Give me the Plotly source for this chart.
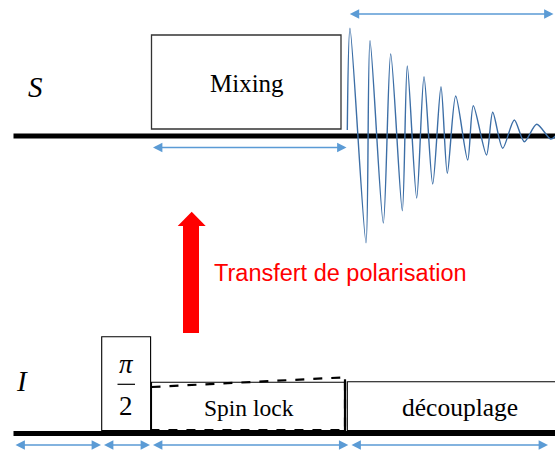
import plotly.graph_objects as go

# ---------------- data (diagram time axis, px-like units) ----------------
S_BASE = 136.0          # S channel baseline level
I_BASE = 433.5          # I channel baseline level

# FID on the S channel: extrema (time, amplitude above baseline)
fid_t = [347.3, 350.0, 366.0, 370.0, 383.3, 390.7, 402.3, 407.3, 416.7, 424.0,
         432.7, 441.0, 447.3, 455.7, 467.7, 473.3, 486.5, 492.7, 502.7, 514.3,
         524.3, 536.7, 550.7, 556.0]
fid_amp = [6.0, 107.7, -106.7, 95.3, -87.0, 82.0, -74.7, 70.0, -62.0, 59.3,
           -48.0, 49.3, -37.3, 40.0, -24.0, 30.3, -19.0, 23.7, -12.3, 16.0,
           -5.7, 11.7, -3.0, 0.5]

# blocks: (label, t_start, t_end, top level)
mixing_block = ("Mixing", 151.5, 341.0, 35.0, 129.0)
pulse_block = (101.7, 150.6, 336.7)
spinlock_block = ("Spin lock", 151.5, 345.0, 382.3)
decouple_block = ("découplage", 347.3, 600.0, 381.7)
spinlock_ramp = [387.0, 377.3]  # dashed ramp level at start / end

# duration arrows: (t0, t1, level)
duration_arrows = [
    (348.3, 553.5, 14.0),
    (151.5, 346.5, 147.5),
    (14.0, 101.0, 445.0),
    (102.5, 150.0, 445.0),
    (151.5, 348.3, 445.0),
    (350.0, 548.0, 445.0),
]

BLUE = "#5B9BD5"
FID_BLUE = "#3C6EA6"
RED = "#FF0000"

fig = go.Figure()

# baselines
for yb in (S_BASE, I_BASE):
    fig.add_trace(go.Scatter(x=[13.5, 570], y=[yb, yb], mode="lines",
                             line=dict(color="black", width=5),
                             hoverinfo="skip", showlegend=False))

# FID
fig.add_trace(go.Scatter(x=fid_t, y=[S_BASE - a for a in fid_amp], mode="lines",
                         line=dict(color=FID_BLUE, width=1.4, shape="spline", smoothing=0.8),
                         hoverinfo="skip", showlegend=False))

shapes = []
# Mixing box
_, mx0, mx1, my0, my1 = mixing_block
shapes.append(dict(type="rect", x0=mx0, x1=mx1, y0=my0, y1=my1,
                   line=dict(color="#333333", width=1.3), fillcolor="white", layer="below"))
# pi/2 pulse
px0, px1, ptop = pulse_block
shapes.append(dict(type="rect", x0=px0, x1=px1, y0=ptop, y1=I_BASE - 3,
                   line=dict(color="black", width=1.1), fillcolor="white", layer="below"))
# spin lock
_, sx0, sx1, stop = spinlock_block
shapes.append(dict(type="rect", x0=sx0, x1=sx1, y0=stop, y1=I_BASE - 3,
                   line=dict(color="black", width=1.1), fillcolor="white", layer="below"))
shapes.append(dict(type="path",
                   path=f"M{sx0},{spinlock_ramp[0]} L{sx1},{spinlock_ramp[1]} L{sx1},{I_BASE-3.5} L{sx0},{I_BASE-3.5}",
                   line=dict(color="black", width=2.2, dash="dash")))
shapes.append(dict(type="line", x0=sx1, x1=sx1, y0=spinlock_ramp[1] + 2, y1=I_BASE - 2,
                   line=dict(color="black", width=2.2)))
# découplage
_, dx0, dx1, dtop = decouple_block
shapes.append(dict(type="rect", x0=dx0, x1=dx1, y0=dtop, y1=I_BASE - 3,
                   line=dict(color="black", width=1.1), fillcolor="white", layer="below"))
# pi/2 fraction bar
shapes.append(dict(type="line", x0=117.5, x1=135.0, y0=384.3, y1=384.3,
                   line=dict(color="black", width=1.2)))
# red transfer arrow
shapes.append(dict(type="path",
                   path="M183,333 L183,226 L177.7,226 L191.7,211.7 L205.7,226 L199,226 L199,333 Z",
                   fillcolor=RED, line=dict(color=RED, width=0)))

annotations = []
for t0, t1, lvl in duration_arrows:
    annotations.append(dict(x=t1, y=lvl, ax=t0, ay=lvl, xref="x", yref="y",
                            axref="x", ayref="y", text="", showarrow=True,
                            arrowhead=2, arrowside="end+start", arrowsize=1.25,
                            arrowwidth=1.5, arrowcolor=BLUE, standoff=0, startstandoff=0))

serif = "Liberation Serif, Times New Roman, serif"
def txt(x, y, s, size, color="black", family=serif, italic=False):
    annotations.append(dict(x=x, y=y, xref="x", yref="y", text=s, showarrow=False,
                            font=dict(size=size, color=color, family=family,
                                      style="italic" if italic else "normal"),
                            xanchor="center", yanchor="middle"))

txt(35.5, 87, "S", 29, italic=True)
txt(21.5, 381, "I", 29, italic=True)
txt((mx0 + mx1) / 2 + 0.5, 83, mixing_block[0], 25)
txt(248.5, 408, spinlock_block[0], 23.5)
txt(459.5, 407, decouple_block[0], 25.5)
txt(126.3, 364, "π", 27, italic=True)
txt(126.3, 406, "2", 27)
txt(340, 273, "Transfert de polarisation", 23.5, color=RED,
    family="Liberation Sans, Arial, sans-serif")

fig.update_layout(
    width=555, height=452, margin=dict(l=0, r=0, t=0, b=0),
    paper_bgcolor="white", plot_bgcolor="white",
    xaxis=dict(range=[0, 555], visible=False, fixedrange=True),
    yaxis=dict(range=[452, 0], visible=False, fixedrange=True),
    shapes=shapes, annotations=annotations, showlegend=False,
)

# remove the default page margin so the 555x452 figure fills the window exactly
fig.write_html("out.html",
               config={"displayModeBar": False, "staticPlot": True},
               post_script="document.body.style.margin='0';document.body.style.overflow='hidden';")
